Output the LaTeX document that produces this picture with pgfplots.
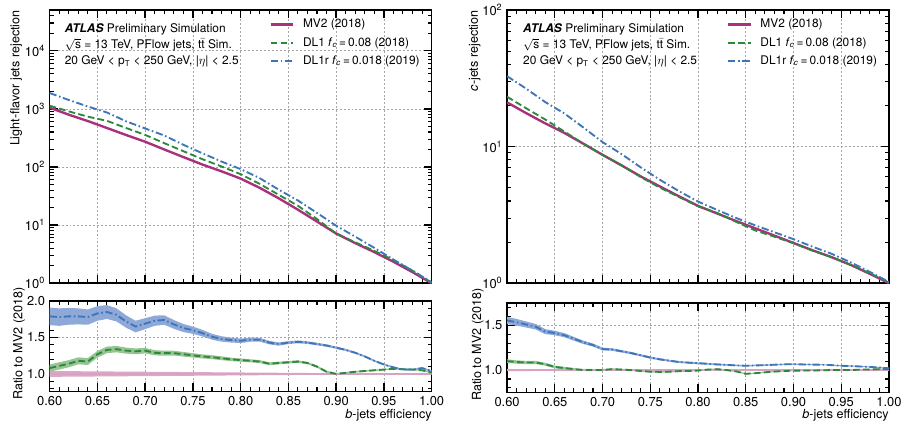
\documentclass[border=0pt]{standalone}
\usepackage{fontspec}
\setmainfont{TeX Gyre Heros}
\usepackage{pgfplots}
\usepackage{pgfplotstable}
\pgfplotsset{compat=1.18}
\usepgfplotslibrary{fillbetween}

\definecolor{mvtwo}{HTML}{A8307C}
\definecolor{dlone}{HTML}{2A8A3A}
\definecolor{dlr}{HTML}{3C76B6}
\definecolor{bandmv}{HTML}{DBA8C6}
\definecolor{banddl}{HTML}{98C494}
\definecolor{banddlr}{HTML}{8EA8D8}

\newcommand\tickfont{\fontsize{9.75}{11}\selectfont}
\newcommand\labfont{\fontsize{9.5}{11}\selectfont}
\newcommand\txtfont{\fontsize{9}{11}\selectfont}

% light-flavour rejection (main, left)
\pgfplotstableread{
x     mv     dl     dlr
0.60  1047   1131   1874
0.62  794    905    1421
0.64  617    734    1098
0.66  468    622    866
0.68  355    469    611
0.70  272    356    460
0.72  200    257    348
0.74  148    187    241
0.76  110    136    172
0.78  84.1   102    124
0.80  63.1   75.1   91.8
0.82  43.7   51.1   64.2
0.84  28.8   33.1   40.6
0.86  18.4   21.5   26.5
0.88  11.5   12.7   16.2
0.90  7.16   7.16   9.74
0.92  4.90   5.05   6.32
0.94  3.43   3.60   4.05
0.96  2.34   2.50   2.55
0.98  1.55   1.64   1.64
1.00  1.00   1.02   1.04
}\lightmain

% c-jet rejection (main, right)
\pgfplotstableread{
x     mv     dl     dlr
0.60  21.1   23.2   32.8
0.62  17.6   19.1   26.6
0.64  14.8   15.8   21.2
0.66  12.6   12.9   17.5
0.68  10.5   10.5   13.8
0.70  8.71   8.71   10.8
0.72  7.28   7.32   8.81
0.74  6.05   5.99   7.05
0.76  5.11   5.01   5.72
0.78  4.33   4.28   4.72
0.80  3.68   3.66   3.96
0.82  3.24   3.27   3.44
0.84  2.85   2.81   3.00
0.86  2.52   2.43   2.65
0.88  2.23   2.19   2.36
0.90  1.97   1.96   2.10
0.92  1.74   1.73   1.85
0.94  1.55   1.55   1.64
0.96  1.36   1.36   1.42
0.98  1.17   1.18   1.21
1.00  1.00   1.01   1.02
}\charmmain

% ratios to MV2, with half-widths of the bands
\pgfplotstableread{
x     b      be     g      ge     me
0.60  1.79   0.120  1.08   0.050  0.040
0.61  1.78   0.120  1.11   0.050  0.039
0.62  1.79   0.115  1.14   0.049  0.038
0.63  1.79   0.110  1.18   0.048  0.037
0.64  1.78   0.105  1.17   0.047  0.036
0.65  1.83   0.100  1.27   0.046  0.035
0.66  1.85   0.095  1.33   0.045  0.034
0.67  1.81   0.090  1.34   0.044  0.033
0.68  1.72   0.085  1.32   0.042  0.032
0.69  1.65   0.080  1.31   0.040  0.031
0.70  1.69   0.075  1.32   0.038  0.030
0.71  1.73   0.070  1.29   0.036  0.029
0.72  1.74   0.065  1.285  0.034  0.028
0.73  1.68   0.060  1.285  0.033  0.027
0.74  1.63   0.055  1.27   0.032  0.026
0.75  1.60   0.050  1.255  0.030  0.025
0.76  1.56   0.045  1.24   0.028  0.024
0.77  1.51   0.040  1.23   0.027  0.023
0.78  1.48   0.037  1.215  0.026  0.022
0.79  1.465  0.034  1.20   0.024  0.021
0.80  1.455  0.031  1.19   0.022  0.020
0.81  1.47   0.028  1.18   0.021  0.019
0.82  1.47   0.026  1.17   0.020  0.018
0.83  1.43   0.024  1.14   0.019  0.017
0.84  1.41   0.022  1.15   0.018  0.016
0.85  1.43   0.020  1.16   0.017  0.015
0.86  1.44   0.019  1.17   0.016  0.014
0.87  1.43   0.018  1.15   0.015  0.013
0.88  1.41   0.017  1.10   0.014  0.012
0.89  1.39   0.016  1.03   0.013  0.011
0.90  1.36   0.015  1.00   0.012  0.010
0.91  1.33   0.014  1.015  0.012  0.009
0.92  1.29   0.013  1.03   0.011  0.009
0.93  1.24   0.012  1.04   0.011  0.008
0.94  1.18   0.012  1.05   0.010  0.008
0.95  1.13   0.011  1.06   0.010  0.007
0.96  1.09   0.011  1.07   0.010  0.007
0.97  1.06   0.010  1.065  0.010  0.006
0.98  1.06   0.010  1.06   0.010  0.006
0.99  1.08   0.010  1.05   0.010  0.005
1.00  1.04   0.010  1.02   0.010  0.005
}\lightratio

\pgfplotstableread{
x     b      be     g      ge     me
0.60  1.555  0.040  1.10   0.020  0.012
0.61  1.535  0.037  1.09   0.019  0.011
0.62  1.51   0.034  1.085  0.018  0.011
0.63  1.485  0.031  1.085  0.017  0.010
0.64  1.43   0.028  1.065  0.016  0.010
0.65  1.415  0.025  1.035  0.015  0.009
0.66  1.39   0.023  1.022  0.014  0.009
0.67  1.35   0.021  1.01   0.013  0.009
0.68  1.31   0.019  1.00   0.012  0.008
0.69  1.28   0.017  1.00   0.012  0.008
0.70  1.235  0.015  1.00   0.011  0.008
0.71  1.23   0.014  1.01   0.011  0.007
0.72  1.21   0.013  1.005  0.010  0.007
0.73  1.19   0.013  1.00   0.010  0.007
0.74  1.165  0.012  0.99   0.010  0.007
0.75  1.14   0.012  0.982  0.009  0.006
0.76  1.12   0.011  0.98   0.009  0.006
0.77  1.105  0.011  0.982  0.009  0.006
0.78  1.09   0.010  0.988  0.009  0.006
0.79  1.083  0.010  0.99   0.008  0.006
0.80  1.077  0.010  0.995  0.008  0.005
0.81  1.07   0.009  1.005  0.008  0.005
0.82  1.063  0.009  1.01   0.008  0.005
0.83  1.058  0.009  1.00   0.008  0.005
0.84  1.052  0.008  0.985  0.008  0.005
0.85  1.048  0.008  0.958  0.007  0.005
0.86  1.052  0.008  0.965  0.007  0.004
0.87  1.055  0.008  0.975  0.007  0.004
0.88  1.06   0.007  0.983  0.007  0.004
0.89  1.064  0.007  0.99   0.007  0.004
0.90  1.066  0.007  0.993  0.007  0.004
0.91  1.063  0.007  0.995  0.006  0.004
0.92  1.061  0.007  0.995  0.006  0.004
0.93  1.06   0.006  0.997  0.006  0.003
0.94  1.055  0.006  1.00   0.006  0.003
0.95  1.048  0.006  1.00   0.006  0.003
0.96  1.045  0.006  1.00   0.006  0.003
0.97  1.04   0.006  1.005  0.006  0.003
0.98  1.035  0.006  1.007  0.006  0.003
0.99  1.028  0.006  1.01   0.006  0.003
1.00  1.02   0.006  1.01   0.006  0.003
}\charmratio

\pgfplotsset{
  atlas/.style={
    scale only axis, width=288.5pt,
    xmin=0.6, xmax=1,
    xtick={0.6,0.65,0.7,0.75,0.8,0.85,0.9,0.95,1},
    minor x tick num=4,
    tick align=inside,
    major tick length=6pt, minor tick length=3pt,
    major tick style={black, line width=1pt},
    minor tick style={black, line width=0.8pt},
    axis line style={line width=1.2pt},
    xmajorgrids, ymajorgrids,
    major grid style={black!35, dash pattern=on 1.5pt off 1.5pt, line width=0.5pt},
    tick label style={font=\tickfont},
    x tick label style={/pgf/number format/.cd, fixed, fixed zerofill, precision=2, assume math mode=true},
    y tick label style={/pgf/number format/.cd, fixed, fixed zerofill, precision=1, assume math mode=true},
  },
  atlaslegend/.style={
    legend style={at={(0.575,0.975)}, anchor=north west, draw=none, fill=none,
      font=\txtfont, row sep=2.6pt, inner sep=0pt, nodes={inner sep=1.5pt},
      /tikz/every odd column/.style={column sep=5pt}},
    legend cell align=left,
    legend image code/.code={\draw[##1] (0pt,0pt) -- (17pt,0pt);},
  },
  mvline/.style={mvtwo, line width=1.8pt, line join=round},
  dlline/.style={dlone, line width=1.4pt, dash pattern=on 5pt off 2.5pt},
  dlrline/.style={dlr, line width=1.4pt, dash pattern=on 5.5pt off 2pt on 1.2pt off 2pt},
}

\begin{document}
\begin{tikzpicture}
\path (0,0) rectangle (679.5pt,-320.25pt);

% ---------- left: light-flavour rejection ----------
\begin{axis}[atlas, atlaslegend, at={(37.5pt,-210pt)}, anchor=south west, height=206.25pt,
  ymode=log, ymin=1, ymax=5e4,
  ytick={1,10,100,1000,10000},
  minor ytick={2,3,4,5,6,7,8,9,20,30,40,50,60,70,80,90,200,300,400,500,600,700,800,900,2000,3000,4000,5000,6000,7000,8000,9000,20000,30000,40000},
  yticklabels={10\textsuperscript{0},10\textsuperscript{1},10\textsuperscript{2},10\textsuperscript{3},10\textsuperscript{4}},
  xticklabels={}]
\addplot[mvline] table[x=x, y=mv] {\lightmain};
\addplot[dlline] table[x=x, y=dl] {\lightmain};
\addplot[dlrline] table[x=x, y=dlr] {\lightmain};
\legend{MV2 (2018), DL1 \textit{f}\textsubscript{\textit{c}}\,=\,0.08 (2018), DL1r \textit{f}\textsubscript{\textit{c}}\,=\,0.018 (2019)}
\end{axis}

\begin{axis}[atlas, at={(37.5pt,-291.75pt)}, anchor=south west, height=68.25pt,
  ymin=0.76, ymax=2.0, ytick={1,1.5,2},
  minor ytick={0.8,0.9,1.1,1.2,1.3,1.4,1.6,1.7,1.8,1.9}]
\addplot[draw=none, name path=mu] table[x=x, y expr=1+\thisrow{me}] {\lightratio};
\addplot[draw=none, name path=ml] table[x=x, y expr=1-\thisrow{me}] {\lightratio};
\addplot[bandmv] fill between[of=mu and ml];
\addplot[draw=none, name path=gu] table[x=x, y expr=\thisrow{g}+\thisrow{ge}] {\lightratio};
\addplot[draw=none, name path=gl] table[x=x, y expr=\thisrow{g}-\thisrow{ge}] {\lightratio};
\addplot[banddl] fill between[of=gu and gl];
\addplot[draw=none, name path=bu] table[x=x, y expr=\thisrow{b}+\thisrow{be}] {\lightratio};
\addplot[draw=none, name path=bl] table[x=x, y expr=\thisrow{b}-\thisrow{be}] {\lightratio};
\addplot[banddlr] fill between[of=bu and bl];
\addplot[mvtwo!45, line width=1pt] coordinates {(0.6,1) (1,1)};
\addplot[dlline] table[x=x, y=g] {\lightratio};
\addplot[dlrline] table[x=x, y=b] {\lightratio};
\end{axis}

% ---------- right: c-jet rejection ----------
\begin{axis}[atlas, atlaslegend, at={(383pt,-210pt)}, anchor=south west, height=206.25pt,
  ymode=log, ymin=1, ymax=100,
  ytick={1,10,100},
  minor ytick={2,3,4,5,6,7,8,9,20,30,40,50,60,70,80,90},
  yticklabels={10\textsuperscript{0},10\textsuperscript{1},10\textsuperscript{2}},
  xticklabels={}]
\addplot[mvline] table[x=x, y=mv] {\charmmain};
\addplot[dlline] table[x=x, y=dl] {\charmmain};
\addplot[dlrline] table[x=x, y=dlr] {\charmmain};
\legend{MV2 (2018), DL1 \textit{f}\textsubscript{\textit{c}}\,=\,0.08 (2018), DL1r \textit{f}\textsubscript{\textit{c}}\,=\,0.018 (2019)}
\end{axis}

\begin{axis}[atlas, at={(383pt,-292.5pt)}, anchor=south west, height=67.5pt,
  ymin=0.75, ymax=1.75, ytick={1,1.5},
  minor ytick={0.8,0.9,1.1,1.2,1.3,1.4,1.6,1.7}]
\addplot[draw=none, name path=mu] table[x=x, y expr=1+\thisrow{me}] {\charmratio};
\addplot[draw=none, name path=ml] table[x=x, y expr=1-\thisrow{me}] {\charmratio};
\addplot[bandmv] fill between[of=mu and ml];
\addplot[draw=none, name path=gu] table[x=x, y expr=\thisrow{g}+\thisrow{ge}] {\charmratio};
\addplot[draw=none, name path=gl] table[x=x, y expr=\thisrow{g}-\thisrow{ge}] {\charmratio};
\addplot[banddl] fill between[of=gu and gl];
\addplot[draw=none, name path=bu] table[x=x, y expr=\thisrow{b}+\thisrow{be}] {\charmratio};
\addplot[draw=none, name path=bl] table[x=x, y expr=\thisrow{b}-\thisrow{be}] {\charmratio};
\addplot[banddlr] fill between[of=bu and bl];
\addplot[mvtwo!45, line width=1pt] coordinates {(0.6,1) (1,1)};
\addplot[dlline] table[x=x, y=g] {\charmratio};
\addplot[dlrline] table[x=x, y=b] {\charmratio};
\end{axis}

% ---------- labels and annotations ----------
\begin{scope}[every node/.style={inner sep=0pt}]
\node[rotate=90, anchor=north east, font=\labfont] at (7.5pt,-3.75pt) {Light-flavor jets rejection};
\node[rotate=90, anchor=north, font=\labfont] at (9.75pt,-255.75pt) {Ratio to MV2 (2018)};
\node[rotate=90, anchor=north east, font=\labfont] at (354pt,-3.75pt) {\textit{c}-jets rejection};
\node[rotate=90, anchor=north, font=\labfont] at (356.25pt,-256.5pt) {Ratio to MV2 (2018)};
\node[anchor=base east, font=\labfont] at (326.25pt,-312pt) {\textit{b}-jets efficiency};
\node[anchor=base east, font=\labfont] at (671.5pt,-312pt) {\textit{b}-jets efficiency};

\foreach \xo in {48.75pt,395pt}{
  \node[anchor=base west, font=\txtfont] at (\xo,-20.4pt) {\textbf{\textit{ATLAS}} Preliminary Simulation};
  \node[anchor=base west, font=\txtfont] at (\xo,-32.7pt) {$\sqrt{\mbox{s}}$ = 13 TeV, PFlow jets, t$\bar{\mbox{t}}$ Sim.};
  \node[anchor=base west, font=\txtfont] at (\xo,-45pt) {20 GeV < p\textsubscript{T} < 250 GeV, |$\eta$| < 2.5};
}
\end{scope}
\end{tikzpicture}
\end{document}
